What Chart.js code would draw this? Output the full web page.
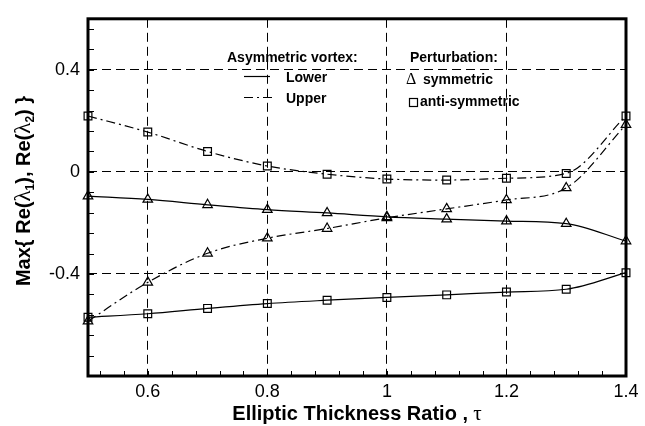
<!DOCTYPE html>
<html>
<head>
<meta charset="utf-8">
<script src="https://cdn.jsdelivr.net/npm/chart.js@4/dist/chart.umd.min.js"></script>
<style>
  html, body { margin: 0; padding: 0; background: #fff; }
  #wrap { width: 645px; height: 426px; }
</style>
</head>
<body>
<div id="wrap"><canvas id="chart" width="645" height="426"></canvas></div>
<script>
// thickness ratio tau
var tau = [0.5, 0.6, 0.7, 0.8, 0.9, 1.0, 1.1, 1.2, 1.3, 1.4];

// lower vortex
var lowerSym  = [-0.095, -0.108, -0.129, -0.148, -0.161, -0.176, -0.185, -0.193, -0.203, -0.271];
var lowerAnti = [-0.570, -0.556, -0.535, -0.516, -0.503, -0.492, -0.482, -0.471, -0.460, -0.395];
// upper vortex
var upperSym  = [-0.585, -0.433, -0.319, -0.260, -0.222, -0.180, -0.145, -0.110, -0.063, 0.185];
var upperAnti = [0.219, 0.156, 0.080, 0.023, -0.009, -0.028, -0.032, -0.025, -0.006, 0.219];

var xTicks = [0.6, 0.8, 1.0, 1.2, 1.4];
var xLabels = ["0.6", "0.8", "1", "1.2", "1.4"];
var yTicks = [-0.4, 0, 0.4];
var yLabels = ["-0.4", "0", "0.4"];

var DASHDOT = [9, 4, 2, 4];

function pts(ys) {
    return tau.map(function (x, i) { return { x: x, y: ys[i] }; });
}

function series(label, ys, style, dash) {
    return {
        label: label,
        data: pts(ys),
        borderColor: "#000",
        borderWidth: 1.2,
        borderDash: dash,
        pointStyle: style,
        pointRadius: 5.5,
        pointBorderColor: "#000",
        pointBackgroundColor: "rgba(0,0,0,0)",
        pointBorderWidth: 1.2,
        cubicInterpolationMode: "monotone",
        clip: false
    };
}

// draw text made of pieces with different fonts
function richWidth(ctx, segs) {
    var w = 0;
    segs.forEach(function (s) { ctx.font = s.font; w += ctx.measureText(s.t).width; });
    return w;
}
function drawRich(ctx, segs, x, y) {
    var cx = x;
    segs.forEach(function (s) {
        ctx.font = s.font;
        ctx.fillText(s.t, cx, y + (s.dy || 0));
        cx += ctx.measureText(s.t).width;
    });
}

var B = "bold 20px 'Liberation Sans', Arial, sans-serif";
var G = "23px 'Liberation Serif', 'DejaVu Serif', serif";
var S = "bold 12px 'Liberation Sans', Arial, sans-serif";

var yTitle = [
    { t: "Max{ Re(", font: B }, { t: "\u03bb", font: G }, { t: "1", font: S, dy: 4 },
    { t: "), Re(", font: B }, { t: "\u03bb", font: G }, { t: "2", font: S, dy: 4 },
    { t: ") }", font: B }
];
var xTitle = [
    { t: "Elliptic Thickness Ratio ,", font: "bold 20px 'Liberation Sans', Arial, sans-serif" },
    { t: " \u03c4", font: "21px 'Liberation Serif', 'DejaVu Serif', serif" }
];

var decor = {
    id: "decor",
    afterDraw: function (chart) {
        var ctx = chart.ctx, a = chart.chartArea;
        var xs = chart.scales.x, ys = chart.scales.y;
        ctx.save();
        ctx.strokeStyle = "#000";
        ctx.fillStyle = "#000";

        // minor ticks, pointing in
        ctx.lineWidth = 1;
        ctx.beginPath();
        for (var k = 13; k <= 35; k++) {
            var px = Math.round(xs.getPixelForValue(k * 0.04)) + 0.5;
            ctx.moveTo(px, a.bottom); ctx.lineTo(px, a.bottom - 5);
        }
        for (var j = -9; j <= 7; j++) {
            var py = Math.round(ys.getPixelForValue(j * 0.08)) + 0.5;
            ctx.moveTo(a.left, py); ctx.lineTo(a.left + 6, py);
        }
        ctx.stroke();

        // frame
        ctx.lineWidth = 3;
        ctx.strokeRect(a.left, a.top, a.right - a.left, a.bottom - a.top);

        // axis titles
        ctx.textBaseline = "alphabetic";
        ctx.textAlign = "left";
        var w = richWidth(ctx, xTitle);
        drawRich(ctx, xTitle, (a.left + a.right) / 2 - w / 2, 420);

        ctx.save();
        ctx.translate(30, 191);
        ctx.rotate(-Math.PI / 2);
        w = richWidth(ctx, yTitle);
        drawRich(ctx, yTitle, -w / 2, 0);
        ctx.restore();

        // legend
        var LB = "bold 14px 'Liberation Sans', Arial, sans-serif";
        ctx.font = LB;
        ctx.fillText("Asymmetric vortex:", 227, 62);
        ctx.fillText("Lower", 286, 82);
        ctx.fillText("Upper", 286, 103);
        ctx.fillText("Perturbation:", 410, 62);
        ctx.fillText("symmetric", 423, 84);
        ctx.fillText("anti-symmetric", 420, 106);
        ctx.font = "16px 'Liberation Serif', 'DejaVu Serif', serif";
        ctx.fillText("\u0394", 406, 84);
        ctx.lineWidth = 1.2;
        ctx.strokeRect(409.5, 98.5, 8, 8);

        ctx.beginPath();
        ctx.moveTo(244, 76.5); ctx.lineTo(270, 76.5);
        ctx.stroke();
        ctx.setLineDash(DASHDOT);
        ctx.beginPath();
        ctx.moveTo(244, 97.5); ctx.lineTo(272, 97.5);
        ctx.stroke();
        ctx.restore();
    }
};

var gridColor = function (ctx) {
    return (ctx.tick && (ctx.tick.value >= 1.399)) ? "rgba(0,0,0,0)" : "#000";
};

new Chart(document.getElementById("chart"), {
    type: "line",
    data: {
        datasets: [
            series("Lower symmetric", lowerSym, "triangle", []),
            series("Lower anti-symmetric", lowerAnti, "rect", []),
            series("Upper symmetric", upperSym, "triangle", DASHDOT),
            series("Upper anti-symmetric", upperAnti, "rect", DASHDOT)
        ]
    },
    options: {
        responsive: false,
        animation: false,
        devicePixelRatio: 1,
        layout: { padding: { left: 0, top: 8, right: 19, bottom: 0 } },
        plugins: {
            legend: { display: false },
            tooltip: { enabled: false }
        },
        scales: {
            x: {
                type: "linear",
                min: 0.5,
                max: 1.4,
                afterBuildTicks: function (s) {
                    s.ticks = xTicks.map(function (v) { return { value: v }; });
                },
                afterFit: function (s) { s.height = 50; },
                ticks: {
                    autoSkip: false,
                    maxRotation: 0,
                    padding: 5,
                    color: "#000",
                    font: { family: "'Liberation Sans', Arial, sans-serif", size: 18 },
                    callback: function (v) {
                        var i = xTicks.findIndex(function (t) { return Math.abs(t - v) < 1e-6; });
                        return i >= 0 ? xLabels[i] : "";
                    }
                },
                grid: { color: gridColor, lineWidth: 1, drawTicks: false },
                border: { display: false, dash: [9, 5] }
            },
            y: {
                type: "linear",
                min: -0.8,
                max: 0.6,
                afterBuildTicks: function (s) {
                    s.ticks = yTicks.map(function (v) { return { value: v }; });
                },
                afterFit: function (s) { s.width = 88; },
                ticks: {
                    autoSkip: false,
                    padding: 8,
                    color: "#000",
                    font: { family: "'Liberation Sans', Arial, sans-serif", size: 18 },
                    callback: function (v) {
                        var i = yTicks.findIndex(function (t) { return Math.abs(t - v) < 1e-6; });
                        return i >= 0 ? yLabels[i] : "";
                    }
                },
                grid: { color: "#000", lineWidth: 1, drawTicks: false },
                border: { display: false, dash: [9, 5] }
            }
        }
    },
    plugins: [decor]
});
</script>
</body>
</html>
